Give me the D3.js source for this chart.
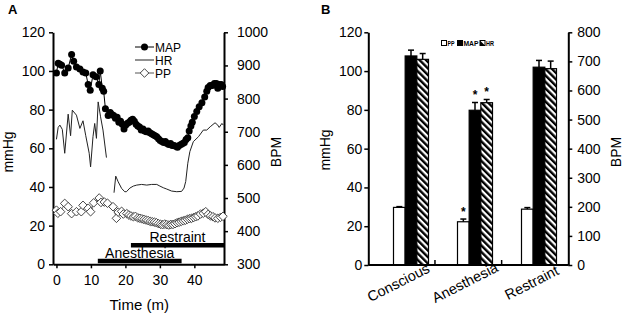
<!DOCTYPE html>
<html lang="en">
<head>
<meta charset="UTF-8">
<title>MAP, HR and PP</title>
<script src="https://d3js.org/d3.v7.min.js"></script>
<style>
  body { margin: 0; background: #fff; }
  text { font-family: "Liberation Sans", Arial, sans-serif; fill: #000; }
</style>
</head>
<body>
<svg width="624" height="317"></svg>
<script>
// ---------- panel A : time course ----------
const mapTime = [0, 0.5, 1, 1.5, 2.4, 3.4, 4.4, 5, 5.8, 6.8, 7.7, 8.5, 9.2, 9.8, 10.6, 11.5, 12.3, 12.7, 13.3, 13.7, 14.2, 15,
  15.6, 16.1, 16.6, 17.1, 17.6, 18.1, 18.6, 19.1, 19.6, 20.1, 20.6, 21.1, 21.6, 22.1, 22.6, 23.1, 23.6, 24.1, 24.6, 25.1,
  25.6, 26.1, 26.6, 27.1, 27.6, 28.1, 28.6, 29.1, 29.6, 30.1, 30.6, 31.1, 31.6, 32.1, 32.6, 33.1, 33.6, 34.1, 34.6, 35.1,
  35.6, 36.1, 36.6, 37.1, 37.6, 38.1, 38.5, 39, 39.4, 40, 40.7, 41.4, 42.2, 43, 43.6, 44, 44.6, 45.2, 45.8, 46.4, 46.8,
  47.2, 47.8, 48.2];
const mapVals = [99, 104, 103.5, 103, 99, 101.5, 108.5, 105, 102, 101, 99.5, 99, 93, 90, 98, 97, 93, 100, 91, 89.5, 80.5, 77,
  78.5, 77.5, 77, 75.5, 76, 73.5, 74, 72.5, 70, 72, 73, 73.5, 74.5, 75, 74, 72.5, 71.5, 71, 69.5, 70,
  69, 68.5, 69, 68, 67.5, 67, 66.5, 66, 65, 64, 63.5, 63, 63.5, 62.5, 62, 62.5, 61.5, 61.5, 61, 60.5,
  61.5, 62, 62.5, 63, 64.5, 65.5, 69, 71.5, 73.5, 76.5, 79, 81.5, 83.5, 86.5, 89.5, 91.5, 92.5, 92.5, 93.5, 93.5, 91,
  93, 93, 92];

// heart rate (right axis); null = recording gap
const hrTime = [0, 0.5, 1, 1.7, 2.4, 3.4, 4.1, 4.6, 5.8, 6.8, 7.7, 8.5, 9.5, 9.9, 10.6, 11.1, 11.6, 12.1, 12.8, 13.5, 14.5,
  15.5, 16.7, 17.2, 17.9, 18.9, 19.8, 20.3, 21.3, 22.3, 23.3, 24.7, 26.2, 27.6, 29.1, 30, 31, 32, 33.4, 34.9, 36.3,
  37, 37.5, 38.1, 38.7, 39.7, 41.2, 42.6, 43.6, 44.6, 46, 46.8, 47.2, 48, 48.4];
const hrVals = [677, 713, 720, 707, 635, 753, 688, 765, 750, 710, 733, 688, 635, 594, 685, 725, 680, 790, 745, 705, 622,
  null, 516, 566, 549, 529, 519, 519, 530, 536, 539, 541, 539, 541, 541, 536, 531, 527, 521, 519, 520,
  530, 550, 605, 640, 670, 685, 705, 705, 715, 727, 720, 713, 725, 720];

const ppTime = [0, 0.4, 1.2, 2.4, 3.4, 4.4, 5.8, 7.2, 7.7, 9.2, 9.9, 10.8, 12.4, 12.9, 13.9, 14.8, 16.4, 17.4, 17.9, 18.9,
  19.4, 20.4, 21, 21.6, 22.3, 22.9, 23.6, 24.2, 24.8, 25.4, 26, 26.6, 27.2, 27.8, 28.4, 29, 29.6, 30.2, 30.8, 31.4,
  32, 32.6, 33.2, 33.8, 34.4, 35, 35.6, 36.2, 36.8, 37.4, 38, 38.6, 39.2, 39.8, 40.4, 41, 41.8, 42.6, 43.3, 44,
  44.7, 45.4, 46, 46.8, 47.6, 48.3];
const ppVals = [28, 26.4, 27.2, 31.5, 29.8, 26.2, 27.2, 27.2, 30.5, 29, 27.2, 31.8, 34.3, 32, 32.2, 31.6, 29.8, 23.8, 27, 27.4,
  26, 26.2, 25.5, 25, 24.6, 24.8, 24, 23.8, 23.5, 23.2, 22.9, 22.6, 22.2, 22, 21.8, 21.5, 21, 20.7, 20.5, 20.8,
  20.5, 20.3, 20.6, 20.6, 21, 21.5, 21.8, 22.2, 22.5, 22.8, 23.3, 23.6, 23.8, 24.2, 24.6, 25, 26, 26.4, 27.2, 25.8,
  25, 24.6, 24, 23.8, 24.3, 24.8];

const phaseNames = ["Anesthesia", "Restraint"];
const phaseStart = [12, 21.6];
const phaseEnd = [36.3, 48.6];
const phaseLevel = [1.7, 9.8];   // mmHg level of each bar

const timeTicks = [0, 10, 20, 30, 40];
const mmhgTicks = [0, 20, 40, 60, 80, 100, 120];
const bpmTicksA = [300, 400, 500, 600, 700, 800, 900, 1000];

// ---------- panel B : group means ----------
const groups = ["Conscious", "Anesthesia", "Restraint"];
const seriesB = ["PP", "MAP", "HR"];
const ppMean = [29.7, 22.3, 28.8];
const ppErr = [0.4, 1.4, 0.8];
const mapMean = [107.8, 79.8, 102];
const mapErr = [3, 4, 3.5];
const hrMean = [707, 558, 675];
const hrErr = [20, 11, 26];
const ppStar = [false, true, false];
const mapStar = [false, true, false];
const hrStar = [false, true, false];
const bpmTicksB = [0, 100, 200, 300, 400, 500, 600, 700, 800];

const svg = d3.select("svg");

function styleAxis(g, size) {
  g.select(".domain").attr("stroke", "#000").attr("stroke-width", 2);
  g.selectAll(".tick line").attr("stroke", "#000").attr("stroke-width", 1.5);
  g.selectAll(".tick text").attr("font-size", size).attr("font-family", "Liberation Sans, Arial, sans-serif").attr("fill", "#000");
}

// ===== Panel A =====
const xA = d3.scaleLinear().domain([-1, 48.6]).range([53, 224]);
const yA = d3.scaleLinear().domain([0, 120]).range([264.3, 32.3]);
const yA2 = d3.scaleLinear().domain([300, 1000]).range([264.3, 32.3]);

svg.append("text").attr("x", 8).attr("y", 14).attr("font-size", 13).attr("font-weight", "bold").text("A");

svg.append("g").attr("transform", "translate(53,0)")
  .call(d3.axisLeft(yA).tickValues(mmhgTicks).tickSize(4).tickSizeOuter(0).tickPadding(4))
  .call(g => styleAxis(g, 14));
svg.append("g").attr("transform", "translate(224,0)")
  .call(d3.axisRight(yA2).tickValues(bpmTicksA).tickFormat(d3.format("d")).tickSize(4).tickSizeOuter(0).tickPadding(9))
  .call(g => styleAxis(g, 14));
svg.append("g").attr("transform", "translate(0,264.3)")
  .call(d3.axisBottom(xA).tickValues(timeTicks).tickSize(4).tickSizeOuter(0).tickPadding(7))
  .call(g => styleAxis(g, 14));

svg.append("text").attr("transform", "translate(13,152) rotate(-90)")
  .attr("text-anchor", "middle").attr("font-size", 14).text("mmHg");
svg.append("text").attr("transform", "translate(281,152) rotate(-90)")
  .attr("text-anchor", "middle").attr("font-size", 14).text("BPM");
svg.append("text").attr("x", xA(24)).attr("y", 310)
  .attr("text-anchor", "middle").attr("font-size", 15).text("Time (m)");

// phase bars
const phases = phaseNames.map((n, i) => ({ name: n, s: phaseStart[i], e: phaseEnd[i], lv: phaseLevel[i] }));
svg.selectAll(".phase").data(phases).enter().append("line")
  .attr("x1", d => xA(d.s)).attr("x2", d => xA(d.e))
  .attr("y1", d => yA(d.lv)).attr("y2", d => yA(d.lv))
  .attr("stroke", "#000").attr("stroke-width", 4.5);
svg.selectAll(".phaseLbl").data(phases).enter().append("text")
  .attr("x", d => xA((d.s + d.e) / 2)).attr("y", d => yA(d.lv) - 3)
  .attr("text-anchor", "middle").attr("font-size", 14).text(d => d.name);

// HR line
const hrData = hrTime.map((t, i) => ({ t, v: hrVals[i] }));
svg.append("path").datum(hrData)
  .attr("d", d3.line().defined(d => d.v !== null).x(d => xA(d.t)).y(d => yA2(d.v)))
  .attr("fill", "none").attr("stroke", "#222").attr("stroke-width", 1);

// PP
const ppData = ppTime.map((t, i) => ({ t, v: ppVals[i] }));
const diamond = "M0,-4.3L4.3,0L0,4.3L-4.3,0Z";
svg.append("path").datum(ppData)
  .attr("d", d3.line().x(d => xA(d.t)).y(d => yA(d.v)))
  .attr("fill", "none").attr("stroke", "#555").attr("stroke-width", 0.8);
svg.selectAll(".pp").data(ppData).enter().append("path")
  .attr("d", diamond).attr("transform", d => `translate(${xA(d.t)},${yA(d.v)})`)
  .attr("fill", "#fff").attr("stroke", "#333").attr("stroke-width", 0.9);

// MAP
const mapData = mapTime.map((t, i) => ({ t, v: mapVals[i] }));
svg.append("path").datum(mapData)
  .attr("d", d3.line().x(d => xA(d.t)).y(d => yA(d.v)))
  .attr("fill", "none").attr("stroke", "#000").attr("stroke-width", 1);
svg.selectAll(".map").data(mapData).enter().append("circle")
  .attr("cx", d => xA(d.t)).attr("cy", d => yA(d.v)).attr("r", 3.5).attr("fill", "#000");

// legend A
const legA = svg.append("g").attr("transform", "translate(135,0)");
[["MAP", 47], ["HR", 60], ["PP", 73]].forEach(([name, y]) => {
  legA.append("line").attr("x1", 0).attr("x2", 19).attr("y1", y).attr("y2", y)
    .attr("stroke", name === "HR" ? "#222" : (name === "PP" ? "#555" : "#000")).attr("stroke-width", 1);
  if (name === "MAP") legA.append("circle").attr("cx", 9.5).attr("cy", y).attr("r", 3.5).attr("fill", "#000");
  if (name === "PP") legA.append("path").attr("d", diamond).attr("transform", `translate(9.5,${y})`)
    .attr("fill", "#fff").attr("stroke", "#333").attr("stroke-width", 0.9);
  legA.append("text").attr("x", 20).attr("y", y + 4.5).attr("font-size", 12).text(name);
});

// ===== Panel B =====
const yB = d3.scaleLinear().domain([0, 120]).range([265, 32.3]);
const yB2 = d3.scaleLinear().domain([0, 800]).range([265, 32.3]);
const xSlot = d3.scaleBand().domain(groups).range([368.3, 568.3]);
const x0 = d3.scaleBand().domain(groups).range([379, 571]);
const x1 = d3.scaleBand().domain(seriesB).range([0, 35]);
const groupOff = (x0.bandwidth() - 35) / 2;

svg.append("text").attr("x", 321).attr("y", 14).attr("font-size", 13).attr("font-weight", "bold").text("B");

const defs = svg.append("defs");
const pat = defs.append("pattern").attr("id", "hatch").attr("patternUnits", "userSpaceOnUse")
  .attr("width", 4.6).attr("height", 4.6).attr("patternTransform", "rotate(-45)");
pat.append("rect").attr("width", 4.6).attr("height", 4.6).attr("fill", "#fff");
pat.append("rect").attr("width", 2.4).attr("height", 4.6).attr("fill", "#000");

const barsB = [];
groups.forEach((g, i) => {
  barsB.push({ g, s: "PP", v: ppMean[i], e: ppErr[i], star: ppStar[i], y: yB });
  barsB.push({ g, s: "MAP", v: mapMean[i], e: mapErr[i], star: mapStar[i], y: yB });
  barsB.push({ g, s: "HR", v: hrMean[i], e: hrErr[i], star: hrStar[i], y: yB2 });
});
const fillOf = { PP: "#fff", MAP: "#000", HR: "url(#hatch)" };
const bx = d => x0(d.g) + groupOff + x1(d.s);

svg.selectAll(".bar").data(barsB).enter().append("rect")
  .attr("x", bx).attr("width", x1.bandwidth())
  .attr("y", d => d.y(d.v)).attr("height", d => yB(0) - d.y(d.v))
  .attr("fill", d => fillOf[d.s]).attr("stroke", "#000").attr("stroke-width", 1.2);

// error bars (plus direction)
const eb = svg.selectAll(".err").data(barsB).enter().append("g");
eb.append("line").attr("x1", d => bx(d) + x1.bandwidth() / 2).attr("x2", d => bx(d) + x1.bandwidth() / 2)
  .attr("y1", d => d.y(d.v)).attr("y2", d => d.y(d.v + d.e)).attr("stroke", "#000").attr("stroke-width", 1.5);
eb.append("line").attr("x1", d => bx(d) + x1.bandwidth() / 2 - 3).attr("x2", d => bx(d) + x1.bandwidth() / 2 + 3)
  .attr("y1", d => d.y(d.v + d.e)).attr("y2", d => d.y(d.v + d.e)).attr("stroke", "#000").attr("stroke-width", 1.5);

svg.selectAll(".star").data(barsB.filter(d => d.star)).enter().append("text")
  .attr("x", d => bx(d) + x1.bandwidth() / 2).attr("y", d => d.y(d.v + d.e) - 3)
  .attr("text-anchor", "middle").attr("font-size", 12).attr("font-weight", "bold").text("*");

svg.append("g").attr("transform", "translate(368.3,0)")
  .call(d3.axisLeft(yB).tickValues(mmhgTicks).tickSize(4).tickSizeOuter(0).tickPadding(2))
  .call(g => styleAxis(g, 14));
svg.append("g").attr("transform", "translate(568.3,0)")
  .call(d3.axisRight(yB2).tickValues(bpmTicksB).tickSize(4).tickSizeOuter(0).tickPadding(5))
  .call(g => styleAxis(g, 14));
svg.append("line").attr("x1", 368.3).attr("x2", 568.3).attr("y1", yB(0)).attr("y2", yB(0))
  .attr("stroke", "#000").attr("stroke-width", 2);
svg.selectAll(".sep").data(groups.slice(0, -1)).enter().append("line")
  .attr("x1", d => xSlot(d) + xSlot.bandwidth()).attr("x2", d => xSlot(d) + xSlot.bandwidth())
  .attr("y1", yB(0)).attr("y2", yB(0) - 5).attr("stroke", "#000").attr("stroke-width", 1.5);

svg.selectAll(".cat").data(groups).enter().append("text")
  .attr("transform", d => `translate(${xSlot(d) + xSlot.bandwidth() / 2 - 1},287) rotate(-27)`)
  .attr("text-anchor", "middle").attr("font-size", 14.5).text(d => d);

svg.append("text").attr("transform", "translate(330,150) rotate(-90)")
  .attr("text-anchor", "middle").attr("font-size", 14).text("mmHg");
svg.append("text").attr("transform", "translate(621,152) rotate(-90)")
  .attr("text-anchor", "middle").attr("font-size", 14).text("BPM");

// legend B
const legB = svg.append("g");
const legPos = [441.5, 457.5, 480];
const legTextW = [7, 15, 8];
seriesB.forEach((s, i) => {
  legB.append("rect").attr("x", legPos[i]).attr("y", 40.5).attr("width", 5).attr("height", 5)
    .attr("fill", fillOf[s] === "url(#hatch)" ? "#fff" : fillOf[s]).attr("stroke", "#000").attr("stroke-width", 1);
  if (s === "HR") legB.append("path")
    .attr("d", `M${legPos[i]},${40.5}L${legPos[i] + 5},${45.5}L${legPos[i]},${45.5}Z`).attr("fill", "#000");
  legB.append("text").attr("x", legPos[i] + 6).attr("y", 46).attr("font-size", 7)
    .attr("font-weight", "bold").attr("textLength", legTextW[i]).attr("lengthAdjust", "spacingAndGlyphs").text(s);
});
</script>
</body>
</html>
